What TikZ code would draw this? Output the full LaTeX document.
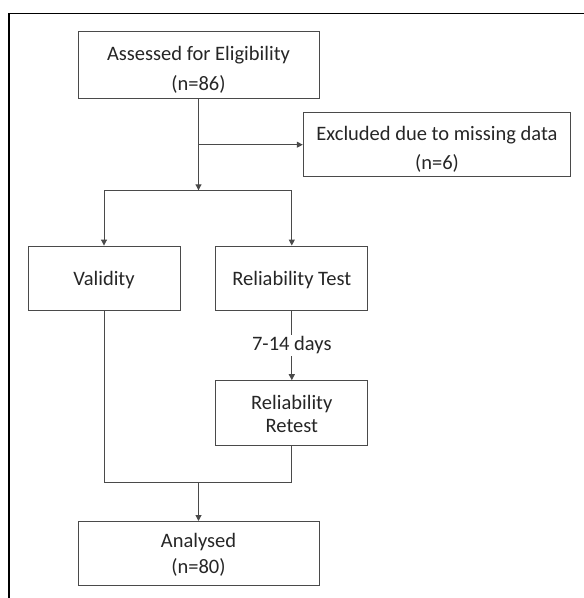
\documentclass[tikz,border=0pt]{standalone}
\usepackage{fontspec}
\setmainfont{Carlito}
\usetikzlibrary{arrows.meta}
\definecolor{fline}{HTML}{4A4A4A}
\definecolor{ftext}{HTML}{262626}

\begin{document}
\begin{tikzpicture}[x=1pt, y=-1pt,
  flowbox/.style={draw=fline, line width=1pt, align=center, inner sep=0pt,
    text=ftext, font=\fontsize{20.5}{26}\selectfont},
  link/.style={draw=fline, line width=1pt},
  arr/.style={link, -{Triangle[length=6pt, width=6pt]}},
  gaplabel/.style={fill=white, inner sep=1.5pt, text=ftext, font=\fontsize{20.5}{26}\selectfont}]
\useasboundingbox (0,0) rectangle (584,598);
\draw[line width=1.5pt] (584,13.3) -- (9,13.3) -- (9,598);
\node[flowbox, minimum width=241pt, text height=59pt, text depth=8.5pt]
  (assess) at (198.5,64.75) {Assessed for Eligibility\\[3.3pt](n=86)};
\node[flowbox, minimum width=267.4pt, text height=56.6pt, text depth=7.4pt]
  (excl) at (437,144.7) {Excluded due to missing data\\[3pt](n=6)};
\node[flowbox, minimum width=152pt, text height=39.7pt, text depth=24.6pt]
  (valid) at (104,278.2) {Validity};
\node[flowbox, minimum width=152pt, text height=39.7pt, text depth=24.6pt]
  (test) at (291.8,278.2) {Reliability Test};
\node[flowbox, minimum width=152pt, text height=51.6pt, text depth=13pt]
  (retest) at (291.8,413) {Reliability\\[-2.7pt]Retest};
\node[flowbox, minimum width=241pt, text height=51.8pt, text depth=11.7pt]
  (analysed) at (198.5,553.25) {Analysed\\(n=80)};
\coordinate (split) at (198.5,190.3);
\coordinate (merge) at (198.5,482.3);
\draw[arr] (assess.south) -- (split);
\draw[arr] (assess.south |- excl.west) -- (excl.west);
\draw[link] (valid.north |- split) -- (test.north |- split);
\draw[arr] (valid.north |- split) -- (valid.north);
\draw[arr] (test.north |- split) -- (test.north);
\draw[arr] (test.south) -- node[gaplabel] {7-14 days} (retest.north);
\draw[link] (valid.south) |- (retest.south |- merge) -- (retest.south);
\draw[arr] (merge) -- (analysed.north);
\end{tikzpicture}
\end{document}
